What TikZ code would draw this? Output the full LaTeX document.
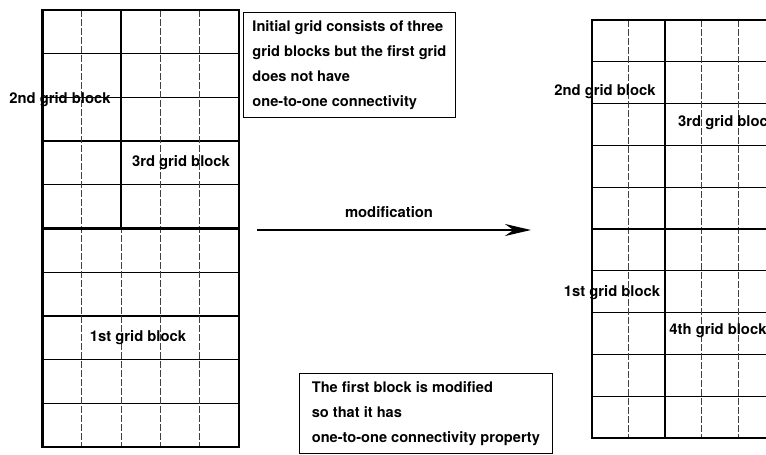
\documentclass[tikz,border=0pt]{standalone}
\usepackage{fontspec}
\setmainfont{TeX Gyre Heros}
\usetikzlibrary{arrows.meta, positioning}
\tikzset{
  outerln/.style={line width=2.6pt, line cap=rect},
  blockln/.style={line width=2.3pt},
  rowln/.style={line width=1.3pt},
  colln/.style={line width=0.9pt, black!75, dash pattern=on 7pt off 2pt},
  lbl/.style={font=\fontsize{14.8}{18}\selectfont\bfseries, inner sep=0pt},
  notebox/.style={draw, line width=0.8pt, anchor=north west, align=left,
                  font=\fontsize{14.6}{25}\selectfont\bfseries,
                  minimum width=#1, inner sep=0pt},
  arr/.style={-{Stealth[length=26pt, width=12pt]}, line width=2.4pt},
}

\begin{document}
\begin{tikzpicture}[x=1pt, y=-1pt]
    \useasboundingbox (0,0) rectangle (766,455);

    % ─── initial grid (left): 3 blocks ────────────────────────────────
    \foreach \r in {1,...,9}
      \draw[rowln] (42.5,{10+\r*43.7}) -- (239,{10+\r*43.7});
    \foreach \c in {1,...,4}
      \draw[colln] ({42.5+\c*39.3},10) -- ({42.5+\c*39.3},447);
    \draw[blockln] (42.5,228.5) -- (239,228.5);
    \draw[blockln] (121.1,10) -- (121.1,228.5);
    \draw[outerln] (42.5,10) rectangle (239,447);

    \node[lbl] (l2nd) at (60,100)  {2nd grid block};
    \node[lbl] (l3rd) at (181,163) {3rd grid block};
    \node[lbl] (l1st) at (138,338) {1st grid block};

    % Note on the initial grid
    \node[notebox=212pt, minimum height=105pt] (note1) at (243,12)
      {Initial grid consists of three\\grid blocks but the first grid\\does not have\\one-to-one connectivity};

    % Modification arrow
    \coordinate (mstart) at (257,230);
    \coordinate (mend)   at (531,230);
    \draw[arr] (mstart) -- (mend);
    \node[lbl] (mlabel) at (389,212) {modification};

    % Note on the modification
    \node[notebox=253pt, minimum height=80pt] (note2) at (299,373)
      {The first block is modified\\so that it has\\one-to-one connectivity property};

    % ─── modified grid (right): 4 blocks ──────────────────────────────
    \foreach \r in {1,...,9}
      \draw[rowln] (592,{20+\r*41.8}) -- (775,{20+\r*41.8});
    \foreach \c in {1,3,4}
      \draw[colln] ({592+\c*36.6},20) -- ({592+\c*36.6},438);
    \draw[blockln] (592,229) -- (775,229);
    \draw[blockln] (665.2,20) -- (665.2,438);
    \draw[outerln] (592,20) rectangle (775,438);

    \node[lbl] (r2nd) at (605,92)  {2nd grid block};
    \node[lbl, anchor=west] (r3rd) at (678,123) {3rd grid block};
    \node[lbl] (r1st) at (612,293) {1st grid block};
    \node[lbl] (r4th) at (718,331) {4th grid block};

\end{tikzpicture}
\end{document}
